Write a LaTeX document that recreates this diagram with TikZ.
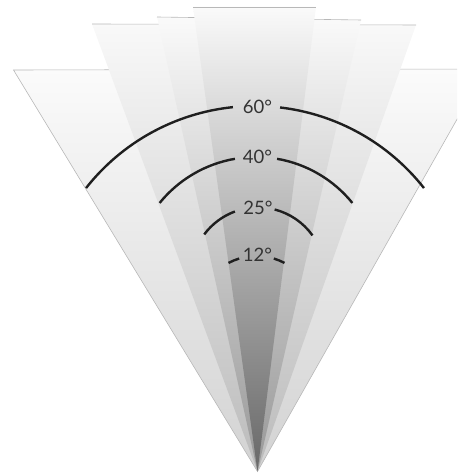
\documentclass[tikz,border=0pt]{standalone}
\usepackage{fontspec}
\setmainfont{Lato}
\definecolor{sAt}{gray}{0.984}\definecolor{sAb}{gray}{0.824}
\definecolor{sBt}{gray}{0.976}\definecolor{sBb}{gray}{0.733}
\definecolor{sCt}{gray}{0.98}\definecolor{sCb}{gray}{0.596}
\definecolor{sDt}{gray}{0.98}\definecolor{sDb}{gray}{0.408}
\definecolor{edge}{gray}{0.72}
\definecolor{arcc}{gray}{0.12}
\definecolor{txt}{gray}{0.2}
\tikzset{
  rim/.style={draw=edge, line width=0.6pt},
  beam/.style={draw=arcc, line width=2.4pt, line cap=butt},
  lbl/.style={text=txt, font=\fontsize{18.5}{22}\selectfont, inner sep=0pt}
}
\begin{document}
\begin{tikzpicture}[x=1pt,y=1pt]
\useasboundingbox (0,0) rectangle (457,473);
\begin{scope}
\clip (0,0) rectangle (457,473);
\coordinate (apex) at (257.5,1.5);
\coordinate (aL) at (13.5,403);  \coordinate (aR) at (485.5,404);
\coordinate (bL) at (92,449);    \coordinate (bR) at (416,448);
\coordinate (cL) at (157,456);   \coordinate (cR) at (361,453);
\coordinate (dL) at (193,466);   \coordinate (dR) at (316,466);
\path[top color=sAt, bottom color=sAb] (apex) -- (aL) -- (aR) -- cycle;
\draw[rim] (aR) -- (aL) -- (apex) -- (aR);
\path[top color=sBt, bottom color=sBb] (apex) -- (bL) -- (bR) -- cycle;
\draw[rim] (bL) -- (bR);
\path[top color=sCt, bottom color=sCb] (apex) -- (cL) -- (cR) -- cycle;
\draw[rim] (cL) -- (cR);
\path[top color=sDt, bottom color=sDb] (apex) -- (dL) -- (dR) -- cycle;
\draw[rim] (dL) -- (dR);
\end{scope}
% 60 arc
\draw[beam] (255,152) ++(38.2:215) arc[start angle=38.2, end angle=83.3, radius=215];
\draw[beam] (255,152) ++(95.9:215) arc[start angle=95.9, end angle=141.8, radius=215];
% 40 arc
\draw[beam] (256,192) ++(39:124) arc[start angle=39, end angle=80.2, radius=124];
\draw[beam] (256,192) ++(99.8:124) arc[start angle=99.8, end angle=141, radius=124];
% 25 arc
\draw[beam] (258,198.6) ++(35.6:67) arc[start angle=35.6, end angle=75.6, radius=67];
\draw[beam] (258,198.6) ++(110.2:67) arc[start angle=110.2, end angle=143.4, radius=67];
% 12 arc
\draw[beam] (256.5,157) ++(62.2:60) arc[start angle=62.2, end angle=73.2, radius=60];
\draw[beam] (256.5,157) ++(106.8:60) arc[start angle=106.8, end angle=117.8, radius=60];
\node[lbl] (l60) at (257.5,366) {60°};
\node[lbl] (l40) at (257.5,316) {40°};
\node[lbl] (l25) at (258,265) {25°};
\node[lbl] (l12) at (257.5,218) {12°};
\end{tikzpicture}
\end{document}
